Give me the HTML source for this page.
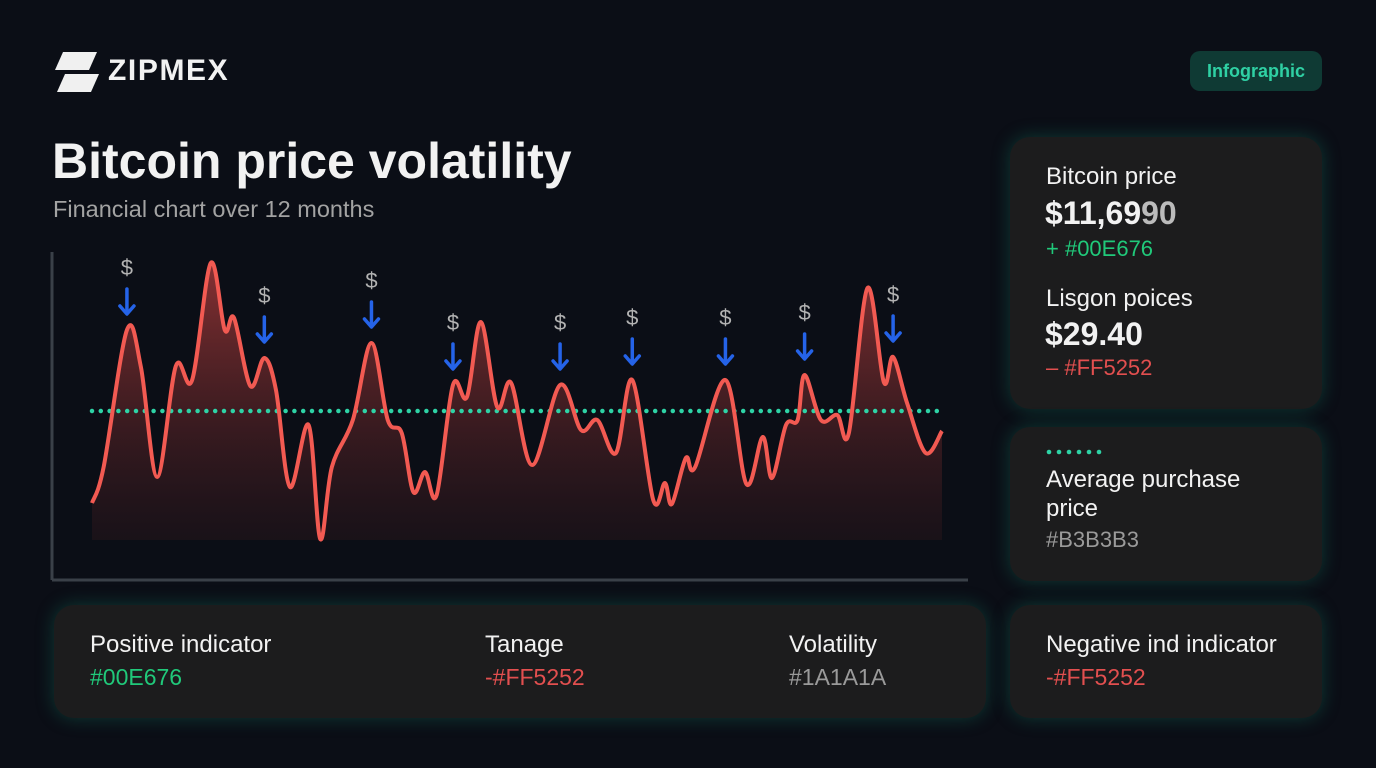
<!DOCTYPE html>
<html><head><meta charset="utf-8">
<style>
*{margin:0;padding:0;box-sizing:border-box}
body{width:1376px;height:768px;background:#0b0e16;font-family:"Liberation Sans",sans-serif;color:#f2f2f2;position:relative;overflow:hidden}
.abs{position:absolute}
.card{position:absolute;background:#1c1c1d;border-radius:20px;box-shadow:0 0 18px rgba(20,140,110,0.35)}
.t{position:absolute;white-space:nowrap}
</style></head><body>
<div class="abs" style="left:53px;top:50px;width:180px;height:44px">
<svg width="46" height="44" style="position:absolute;left:0;top:0">
<polygon points="10,2 44,2 36,20 2,20" fill="#f0f0f0"/>
<polygon points="12,24 46,24 38,42 4,42" fill="#f0f0f0"/>
</svg>
<div class="t" style="left:55px;top:4px;font-size:30px;font-weight:bold;letter-spacing:1.6px">ZIPMEX</div>
</div>
<div class="abs" style="left:1190px;top:51px;width:132px;height:40px;border-radius:10px;background:#0f3a34;color:#2fd0a4;font-size:18px;font-weight:bold;text-align:center;line-height:40px">Infographic</div>
<div class="t" style="left:52px;top:132px;font-size:50px;font-weight:bold">Bitcoin price volatility</div>
<div class="t" style="left:53px;top:196px;font-size:23.5px;color:#a3a3a3">Financial chart over 12 months</div>

<svg id="chart" class="abs" style="left:0;top:0" width="1376" height="768">
<defs><linearGradient id="fg" x1="0" y1="0" x2="0" y2="1"><stop offset="0" stop-color="#a83a3a" stop-opacity="0.8"/><stop offset="1" stop-color="#3a1a1e" stop-opacity="0.3"/></linearGradient></defs>
<line x1="52" y1="252" x2="52" y2="580" stroke="#3a4048" stroke-width="3"/>
<line x1="52" y1="580" x2="968" y2="580" stroke="#3a4048" stroke-width="3"/>
<g id="g"></g>
</svg>

<div class="card" style="left:1010px;top:137px;width:312px;height:272px">
<div class="t" style="left:36px;top:26px;font-size:24px">Bitcoin price</div>
<div class="t" style="left:35px;top:58px;font-size:32px;font-weight:bold">$11,69<span style="color:#bbb">90</span></div>
<div class="t" style="left:36px;top:99px;font-size:22px;color:#20c97a">+ #00E676</div>
<div class="t" style="left:36px;top:148px;font-size:24px">Lisgon poices</div>
<div class="t" style="left:35px;top:179px;font-size:32px;font-weight:bold">$29.40</div>
<div class="t" style="left:36px;top:218px;font-size:22px;color:#e24f4f">– #FF5252</div>
</div>
<div class="card" style="left:1010px;top:427px;width:312px;height:154px">
<svg class="abs" style="left:36px;top:22px" width="56" height="6"><g fill="#2ed3a6"><circle cx="3" cy="3" r="2.3"/><circle cx="13" cy="3" r="2.3"/><circle cx="23" cy="3" r="2.3"/><circle cx="33" cy="3" r="2.3"/><circle cx="43" cy="3" r="2.3"/><circle cx="53" cy="3" r="2.3"/></g></svg>
<div class="t" style="left:36px;top:38px;font-size:24px;line-height:29px;white-space:normal;width:230px">Average purchase price</div>
<div class="t" style="left:36px;top:100px;font-size:22px;color:#9a9a9a">#B3B3B3</div>
</div>
<div class="card" style="left:54px;top:605px;width:932px;height:113px">
<div class="t" style="left:36px;top:26px;font-size:24px">Positive indicator</div>
<div class="t" style="left:36px;top:59px;font-size:23px;color:#20c97a">#00E676</div>
<div class="t" style="left:431px;top:26px;font-size:24px">Tanage</div>
<div class="t" style="left:431px;top:59px;font-size:23px;color:#e24f4f">-#FF5252</div>
<div class="t" style="left:735px;top:26px;font-size:24px">Volatility</div>
<div class="t" style="left:735px;top:59px;font-size:23px;color:#9a9a9a">#1A1A1A</div>
</div>
<div class="card" style="left:1010px;top:605px;width:312px;height:113px">
<div class="t" style="left:36px;top:26px;font-size:24px">Negative ind indicator</div>
<div class="t" style="left:36px;top:59px;font-size:23px;color:#e24f4f">-#FF5252</div>
</div>

<script>
const days=[0,5,15,21,28,36,43,51,57,61,68,74,79,85,93,98,103,112,120,127,133,138,143,148,155,161,167,174,180,189,201,210,217,225,232,241,246,249,255,259,272,281,288,292,298,303,306,313,320,325,333,340,344,350,358,365];
const prices=[3.88,5.32,10.8,9.32,4.92,9.36,8.8,13.48,10.8,11.28,8.56,9.68,8.4,4.52,7.0,2.44,5.32,7.2,10.28,7.2,6.68,4.32,5.12,4.2,8.6,8.12,11.12,7.72,8.68,5.4,8.6,6.8,7.2,5.88,8.8,4.0,4.68,3.84,5.68,5.32,8.8,4.64,6.52,4.88,7.0,7.2,9.0,7.2,7.4,6.68,12.48,8.72,9.72,7.88,5.88,6.76];
const averagePrice=7.56;
const buyDays=[15,74,120,155,201,232,272,306,344];
const buyPrices=[10.8,9.68,10.28,8.6,8.6,8.8,8.8,9.0,9.72];
const xS=d=>92+d/365*850;
const yS=v=>600-v*25;
const NS='http://www.w3.org/2000/svg';
const g=document.getElementById('g');
const pts=days.map((d,i)=>[xS(d),yS(prices[i])]);
let p='M'+pts[0][0]+','+pts[0][1];
for(let i=0;i<pts.length-1;i++){const p0=pts[Math.max(0,i-1)],p1=pts[i],p2=pts[i+1],p3=pts[Math.min(pts.length-1,i+2)];
p+=` C${p1[0]+(p2[0]-p0[0])/6},${p1[1]+(p2[1]-p0[1])/6} ${p2[0]-(p3[0]-p1[0])/6},${p2[1]-(p3[1]-p1[1])/6} ${p2[0]},${p2[1]}`;}
const area=document.createElementNS(NS,'path');
area.setAttribute('d',p+` L${xS(365)},540 L${xS(0)},540 Z`);
area.setAttribute('fill','url(#fg)');


g.appendChild(area);
const avg=document.createElementNS(NS,'line');
avg.setAttribute('x1',xS(0));avg.setAttribute('x2',xS(365));avg.setAttribute('y1',yS(averagePrice));avg.setAttribute('y2',yS(averagePrice));
avg.setAttribute('stroke','#2ed3a6');avg.setAttribute('stroke-width','4.5');avg.setAttribute('stroke-linecap','round');avg.setAttribute('stroke-dasharray','0 8.8');


g.appendChild(avg);
const line=document.createElementNS(NS,'path');
line.setAttribute('d',p);line.setAttribute('fill','none');line.setAttribute('stroke','#f25a52');line.setAttribute('stroke-width','4');line.setAttribute('stroke-linejoin','round');


g.appendChild(line);
buyDays.forEach((d,i)=>{
const x=xS(d),tip=yS(buyPrices[i])-15;
const m=document.createElementNS(NS,'g');


m.innerHTML=`<line x1="${x}" y1="${tip-26}" x2="${x}" y2="${tip-2}" stroke="#2563e8" stroke-width="3.5" stroke-linecap="round"/><polyline points="${x-7},${tip-9} ${x},${tip-1} ${x+7},${tip-9}" fill="none" stroke="#2563e8" stroke-width="3.5" stroke-linecap="round" stroke-linejoin="round"/><text x="${x}" y="${tip-40}" fill="#b3b3b3" font-size="22" text-anchor="middle" font-family="Liberation Sans, sans-serif">$</text>`;
g.appendChild(m);
});
</script>
</body></html>
